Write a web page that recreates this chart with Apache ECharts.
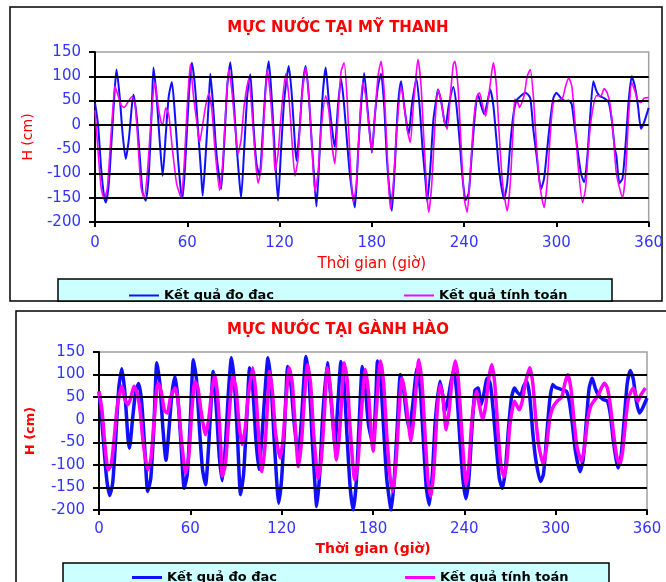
<!DOCTYPE html>
<html>
<head>
<meta charset="utf-8">
<script src="https://cdn.jsdelivr.net/npm/echarts@6/dist/echarts.min.js"></script>
<style>
  html, body { margin: 0; padding: 0; background: #fff; }
  #chart { width: 666px; height: 582px; }
</style>
</head>
<body>
<div id="chart"></div>
<script>
// tick labels
const hourTicks = [0, 60, 120, 180, 240, 300, 360];
const levelTicks = [-200, -150, -100, -50, 0, 50, 100, 150];

const seriesNames = ['Kết quả đo đạc', 'Kết quả tính toán'];

// Mỹ Thanh - measured [hour, cm]
const myThanhDo = [[0,45],[2,0],[4,-90],[6,-150],[7,-160],[9,-120],[11,-20],[13,80],[14,114],[16,60],[18,-20],[20,-70],[22,-30],[24,40],[25,62],[27,20],[29,-60],[31,-140],[33,-156],[35,-100],[37,40],[38,118],[40,60],[42,-30],[44,-105],[46,-20],[48,60],[50,88],[52,20],[54,-70],[56,-140],[57,-150],[59,-60],[61,60],[63,128],[65,80],[67,-10],[69,-100],[70,-146],[72,-60],[74,50],[75,105],[77,30],[79,-60],[82,-132],[84,-40],[86,80],[88,129],[90,60],[92,-40],[94,-120],[95,-150],[97,-50],[99,60],[101,104],[103,0],[105,-80],[107,-105],[109,-20],[111,80],[113,131],[115,50],[117,-60],[119,-156],[121,-50],[123,50],[126,121],[128,60],[130,-40],[131,-74],[133,-10],[135,80],[137,121],[139,60],[141,-40],[143,-130],[144,-168],[146,-60],[148,60],[150,118],[152,50],[155,-30],[156,-45],[158,40],[160,95],[162,40],[164,-40],[166,-110],[169,-170],[171,-60],[173,40],[175,107],[177,40],[179,-30],[180,-57],[182,20],[184,80],[186,105],[188,40],[190,-80],[193,-177],[195,-80],[197,40],[199,90],[201,40],[203,-5],[204,-20],[206,40],[209,95],[211,40],[213,-50],[215,-120],[216,-158],[218,-90],[220,10],[222,55],[223,73],[225,50],[227,10],[228,-2],[230,40],[233,78],[235,40],[237,-30],[239,-110],[241,-155],[243,-140],[245,-60],[247,20],[249,63],[251,40],[253,22],[255,45],[257,73],[259,40],[261,-30],[263,-100],[266,-153],[268,-120],[270,-40],[272,20],[274,50],[277,60],[280,66],[283,55],[285,-10],[287,-60],[290,-132],[292,-110],[294,-50],[296,10],[298,55],[300,66],[303,55],[306,49],[308,50],[310,42],[312,-9],[314,-57],[316,-100],[318,-118],[320,-70],[322,20],[324,90],[326,70],[328,60],[331,55],[334,46],[336,10],[338,-50],[339,-64],[341,-120],[343,-110],[345,-40],[347,50],[349,100],[351,80],[353,40],[355,-8],[357,5],[360,35]];

// Mỹ Thanh - computed [hour, cm]
const myThanhTinh = [[0,30],[2,-55],[4,-130],[6,-152],[8,-130],[10,-40],[12,50],[13,80],[15,60],[17,40],[19,36],[21,45],[24,58],[26,45],[28,-40],[30,-130],[32,-150],[34,-100],[36,-10],[38,70],[39,87],[41,40],[43,5],[44,0],[46,35],[48,20],[50,-40],[53,-120],[56,-150],[58,-80],[60,40],[62,125],[64,60],[66,10],[68,-36],[70,0],[72,40],[74,65],[76,30],[78,-50],[81,-135],[83,-80],[85,30],[87,115],[89,70],[91,0],[93,-60],[95,-30],[97,40],[100,95],[102,30],[104,-60],[106,-120],[108,-90],[110,20],[112,115],[114,60],[116,-30],[117,-95],[119,-60],[121,20],[124,105],[126,60],[128,-30],[130,-105],[132,-70],[134,40],[137,118],[139,60],[141,-40],[143,-139],[145,-100],[147,-10],[150,60],[152,30],[154,-40],[156,-80],[158,20],[160,110],[162,128],[164,50],[166,-80],[168,-160],[170,-120],[172,0],[174,87],[176,60],[178,0],[180,-57],[182,20],[184,100],[186,131],[188,70],[190,-60],[192,-173],[194,-120],[196,-20],[199,80],[201,40],[203,-10],[205,-36],[207,40],[209,110],[210,135],[212,80],[214,-40],[216,-150],[217,-180],[219,-120],[221,0],[223,73],[225,50],[227,10],[229,-9],[231,60],[233,125],[234,131],[236,80],[238,-40],[240,-150],[242,-180],[244,-100],[246,0],[248,55],[250,66],[252,40],[254,18],[256,60],[258,110],[259,128],[261,80],[263,-30],[265,-120],[268,-177],[270,-120],[272,0],[273,53],[275,45],[276,36],[279,60],[281,100],[283,114],[285,60],[287,-40],[289,-120],[292,-170],[294,-120],[296,-20],[298,46],[301,50],[304,55],[306,80],[308,97],[310,80],[312,10],[314,-80],[317,-160],[319,-130],[321,-40],[323,20],[326,60],[329,60],[331,75],[333,66],[335,40],[337,-20],[339,-100],[343,-150],[345,-100],[347,20],[349,87],[351,70],[353,50],[355,46],[357,55],[360,56]];

// Gành Hào - measured [hour, cm]
const ganhHaoDo = [[0,62],[1,30],[3,-50],[5,-130],[7,-168],[9,-140],[11,-40],[13,70],[15,113],[17,60],[19,-40],[20,-63],[22,0],[24,60],[26,80],[28,40],[30,-60],[32,-159],[34,-130],[36,-20],[38,126],[40,80],[42,-20],[44,-90],[46,-20],[48,60],[50,96],[52,40],[54,-60],[56,-152],[58,-120],[60,0],[62,133],[64,90],[66,-20],[68,-110],[70,-144],[72,-60],[74,60],[75,107],[77,30],[79,-80],[81,-135],[83,-60],[85,60],[87,137],[89,80],[91,-40],[93,-166],[95,-120],[97,0],[99,115],[101,70],[103,-40],[105,-110],[107,-40],[109,60],[111,137],[113,80],[115,-40],[117,-150],[118,-185],[120,-130],[122,-10],[124,118],[126,80],[128,0],[130,-60],[131,-75],[133,0],[136,140],[138,90],[140,-40],[142,-150],[143,-192],[145,-120],[147,10],[150,126],[152,60],[154,-20],[155,-55],[157,40],[159,129],[161,80],[163,-40],[165,-150],[167,-200],[169,-140],[171,0],[173,118],[175,70],[177,-10],[180,-55],[182,60],[183,130],[185,90],[187,-20],[189,-130],[192,-200],[194,-130],[196,-10],[198,100],[200,70],[202,10],[204,-20],[206,30],[209,115],[211,70],[213,-40],[215,-150],[217,-189],[219,-120],[221,0],[224,85],[226,50],[227,18],[229,40],[231,80],[233,110],[235,60],[237,-40],[239,-130],[241,-175],[243,-130],[245,-20],[247,65],[249,70],[251,33],[253,60],[255,92],[257,80],[259,20],[261,-60],[263,-130],[265,-152],[267,-110],[269,-20],[271,50],[273,70],[275,60],[277,55],[279,75],[281,85],[283,50],[285,-30],[287,-90],[290,-137],[292,-120],[294,-40],[296,40],[298,78],[300,72],[303,68],[307,63],[309,40],[311,-10],[313,-70],[316,-115],[318,-90],[320,-10],[322,70],[324,92],[326,70],[328,55],[331,45],[334,41],[336,10],[338,-50],[341,-107],[343,-80],[345,0],[347,80],[349,109],[351,90],[353,41],[355,15],[357,25],[360,48]];

// Gành Hào - computed [hour, cm]
const ganhHaoTinh = [[0,63],[2,20],[4,-60],[6,-111],[8,-100],[10,-40],[12,30],[15,74],[17,45],[19,33],[21,50],[23,74],[25,60],[27,20],[29,-50],[32,-111],[34,-90],[36,-10],[38,70],[39,81],[41,60],[43,20],[45,15],[47,50],[50,70],[52,40],[54,-40],[57,-118],[59,-80],[61,20],[63,85],[65,70],[67,20],[70,-33],[72,0],[74,60],[76,100],[78,50],[80,-60],[81,-125],[83,-100],[85,-10],[88,96],[90,70],[92,-10],[94,-55],[96,-20],[98,50],[101,115],[103,60],[105,-40],[107,-115],[109,-60],[111,50],[112,107],[114,60],[116,-30],[119,-85],[121,-40],[123,50],[125,115],[127,80],[129,-20],[131,-104],[133,-50],[135,50],[137,122],[139,80],[141,-30],[144,-130],[146,-90],[148,10],[150,115],[152,70],[154,-20],[156,-89],[158,-30],[160,80],[161,126],[163,90],[165,-20],[168,-133],[170,-100],[172,0],[175,111],[177,60],[179,-40],[180,-70],[182,10],[184,110],[185,130],[187,80],[189,-30],[191,-120],[193,-159],[195,-100],[197,10],[199,92],[201,60],[203,0],[205,-48],[207,10],[209,100],[210,133],[212,90],[214,-20],[216,-130],[218,-170],[220,-110],[222,10],[224,78],[226,50],[228,-22],[230,20],[232,90],[234,130],[236,90],[238,-10],[240,-110],[241,-144],[243,-100],[245,0],[248,63],[250,30],[252,0],[254,30],[256,90],[258,122],[260,80],[262,-20],[264,-100],[266,-126],[268,-90],[270,-10],[273,41],[276,22],[278,40],[280,80],[283,115],[285,80],[287,0],[289,-60],[292,-100],[294,-60],[296,0],[298,26],[301,41],[304,50],[306,80],[308,100],[310,70],[312,0],[314,-60],[317,-92],[319,-60],[321,0],[323,30],[325,41],[328,55],[330,70],[332,81],[334,70],[336,30],[338,-30],[340,-80],[342,-100],[344,-70],[346,0],[348,50],[351,70],[353,50],[354,41],[356,55],[359,70]];

const FONT = 'DejaVu Sans';
const BLUE = '#1010ff';
const PINK = '#ff00ff';
const LABEL_BLUE = '#3333ff';

function xAxisFor(gridIndex, nameGap, labelMargin, bold) {
  return {
    type: 'value',
    gridIndex: gridIndex,
    min: hourTicks[0],
    max: hourTicks[hourTicks.length - 1],
    interval: hourTicks[1] - hourTicks[0],
    name: 'Thời gian (giờ)',
    nameLocation: 'middle',
    nameGap: nameGap,
    nameTextStyle: { color: '#ff0000', fontSize: bold ? 14 : 15, fontFamily: FONT, fontWeight: bold ? 'bold' : 'normal' },
    axisLine: { show: true, onZero: false, lineStyle: { color: '#000', width: 2 } },
    axisTick: { show: true, length: 5, lineStyle: { color: '#000', width: 2 } },
    axisLabel: { color: LABEL_BLUE, fontSize: 15, fontFamily: FONT, margin: labelMargin },
    splitLine: { show: false }
  };
}

function yAxisFor(gridIndex, nameGap, bold) {
  return {
    type: 'value',
    gridIndex: gridIndex,
    min: levelTicks[0],
    max: levelTicks[levelTicks.length - 1],
    interval: levelTicks[1] - levelTicks[0],
    name: 'H (cm)',
    nameLocation: 'middle',
    nameRotate: 90,
    nameGap: nameGap,
    nameTextStyle: { color: '#ff0000', fontSize: bold ? 13 : 14, fontFamily: FONT, fontWeight: bold ? 'bold' : 'normal' },
    axisLine: { show: true, onZero: false, lineStyle: { color: '#000', width: 2 } },
    axisTick: { show: true, length: 6, lineStyle: { color: '#000', width: 2 } },
    axisLabel: { color: LABEL_BLUE, fontSize: 15, fontFamily: FONT, margin: 14 },
    splitLine: { show: false }
  };
}

// đường lưới ngang tại các mốc giữa của trục H
function gridLines(idx) {
  return {
    type: 'line',
    xAxisIndex: idx,
    yAxisIndex: idx,
    data: [],
    silent: true,
    z: 1,
    markLine: {
      silent: true,
      symbol: ['none', 'none'],
      label: { show: false },
      lineStyle: { color: '#000', width: 2, type: 'solid' },
      emphasis: { disabled: true },
      data: levelTicks.slice(1, -1).map(v => ({ yAxis: v }))
    }
  };
}

function lineSeries(name, idx, data, color, width) {
  return {
    name: name,
    type: 'line',
    xAxisIndex: idx,
    yAxisIndex: idx,
    data: data,
    showSymbol: false,
    symbol: 'none',
    smooth: 0.2,
    z: 3,
    lineStyle: { color: color, width: width },
    itemStyle: { color: color }
  };
}

const option = {
  animation: false,
  graphic: [
    // khung ngoài
    { type: 'rect', silent: true, shape: { x: 10, y: 7, width: 652, height: 294 }, style: { fill: 'none', stroke: '#000', lineWidth: 1.5 } },
    { type: 'rect', silent: true, shape: { x: 16, y: 311, width: 660, height: 290 }, style: { fill: 'none', stroke: '#000', lineWidth: 1.5 } },
    // hộp chú thích
    { type: 'rect', silent: true, shape: { x: 58, y: 279, width: 554, height: 22 }, style: { fill: '#ccffff', stroke: '#000', lineWidth: 1.5 } },
    { type: 'rect', silent: true, shape: { x: 63, y: 563, width: 546, height: 30 }, style: { fill: '#ccffff', stroke: '#000', lineWidth: 1.5 } },
    // tiêu đề
    { type: 'text', x: 338, y: 28, style: { text: 'MỰC NƯỚC TẠI MỸ THANH', align: 'center', verticalAlign: 'middle', font: 'bold 15px "DejaVu Sans"', fill: '#ff0000' } },
    { type: 'text', x: 338, y: 330, style: { text: 'MỰC NƯỚC TẠI GÀNH HÀO', align: 'center', verticalAlign: 'middle', font: 'bold 15px "DejaVu Sans"', fill: '#ff0000' } }
  ],
  legend: [
    {
      left: 124, top: 284, itemGap: 130, itemWidth: 30, itemHeight: 2, icon: 'rect',
      data: seriesNames,
      textStyle: { color: '#000', fontSize: 13, fontFamily: FONT, fontWeight: 'bold' }
    },
    {
      left: 127, top: 566, itemGap: 128, itemWidth: 30, itemHeight: 3, icon: 'rect',
      data: seriesNames,
      textStyle: { color: '#000', fontSize: 13, fontFamily: FONT, fontWeight: 'bold' }
    }
  ],
  grid: [
    { left: 95, top: 52, width: 557, height: 170, show: true, borderColor: '#a0a0a0', borderWidth: 1.5 },
    { left: 99, top: 352, width: 548, height: 158, show: true, borderColor: '#a0a0a0', borderWidth: 1.5 }
  ],
  xAxis: [xAxisFor(0, 35, 14, false), xAxisFor(1, 32, 12, true)],
  yAxis: [yAxisFor(0, 60, false), yAxisFor(1, 62, true)],
  series: [
    gridLines(0),
    gridLines(1),
    lineSeries(seriesNames[0], 0, myThanhDo, BLUE, 2),
    lineSeries(seriesNames[1], 0, myThanhTinh, PINK, 1.6),
    lineSeries(seriesNames[0], 1, ganhHaoDo, BLUE, 3.5),
    lineSeries(seriesNames[1], 1, ganhHaoTinh, PINK, 3.5)
  ]
};

const myChart = echarts.init(document.getElementById('chart'), null, { renderer: 'canvas' });
myChart.setOption(option);
</script>
</body>
</html>
